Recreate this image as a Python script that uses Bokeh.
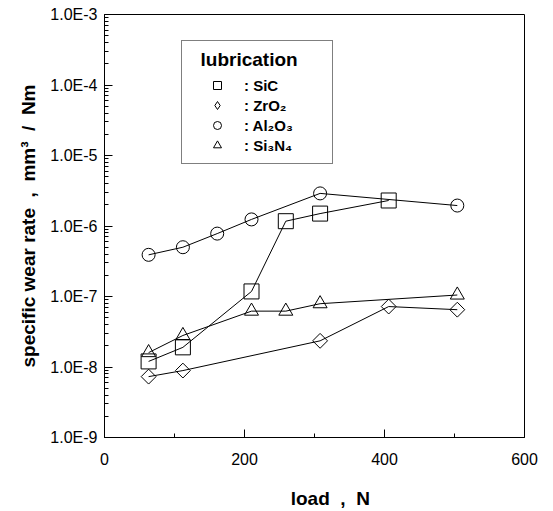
import math
from bokeh.plotting import figure
from bokeh.models import (Range1d, FixedTicker, CustomJSTickFormatter, Legend, LegendItem)
from bokeh.embed import file_html
from bokeh.resources import INLINE

# ---- data ----
sic_load = [63, 112, 210, 259, 308, 406]
sic_rate = [1.2e-8, 1.9e-8, 1.18e-7, 1.17e-6, 1.5e-6, 2.3e-6]

zro2_load = [63, 112, 308, 406, 504]
zro2_rate = [7.3e-9, 8.9e-9, 2.35e-8, 7.2e-8, 6.5e-8]

al2o3_load = [63, 112, 161, 210, 308, 504]
al2o3_rate = [3.9e-7, 5.0e-7, 7.8e-7, 1.24e-6, 2.9e-6, 1.95e-6]

si3n4_load = [63, 112, 210, 259, 308, 504]
si3n4_rate = [1.6e-8, 2.8e-8, 6.2e-8, 6.2e-8, 7.9e-8, 1.05e-7]

x_major = [0, 200, 400, 600]
x_minor = [100, 300, 500]
y_major = [1e-9, 1e-8, 1e-7, 1e-6, 1e-5, 1e-4, 1e-3]

legend_labels = [": SiC", ": ZrO\u2082", ": Al\u2082O\u2083", ": Si\u2083N\u2084"]

FONT = "Liberation Sans"
NB = "\u00a0"

p = figure(output_backend="svg", toolbar_location=None,
           frame_width=420, frame_height=423,
           x_range=Range1d(0, 600), y_range=Range1d(1e-9, 1e-3),
           y_axis_type="log",
           min_border_left=104, min_border_top=14, min_border_right=20, min_border_bottom=66)
p.background_fill_color = "white"
p.border_fill_color = "white"
p.outline_line_color = "black"
p.outline_line_width = 1
p.grid.visible = False

# y minor ticks 2..9 per decade
y_minor = []
for d in y_major[:-1]:
    for k in range(2, 10):
        y_minor.append(d * k)

p.xaxis.ticker = FixedTicker(ticks=x_major, minor_ticks=x_minor)
p.yaxis.ticker = FixedTicker(ticks=y_major, minor_ticks=y_minor)
p.yaxis.formatter = CustomJSTickFormatter(code="return '1.0E' + Math.round(Math.log10(tick));")

for ax in (p.xaxis[0], p.yaxis[0]):
    ax.axis_line_color = "black"
    ax.major_tick_line_color = "black"
    ax.minor_tick_line_color = "black"
    ax.major_tick_in = 8
    ax.major_tick_out = 0
    ax.minor_tick_in = 4
    ax.minor_tick_out = 0
    ax.major_label_text_font = FONT
    ax.major_label_text_font_size = "16px"
    ax.major_label_text_color = "black"
    ax.axis_label_text_font = FONT
    ax.axis_label_text_font_style = "bold"
    ax.axis_label_text_font_size = "19px"
    ax.axis_label_text_color = "black"

p.xaxis.major_label_standoff = 15
p.yaxis.major_label_standoff = 7
p.xaxis.axis_label = NB * 6 + "load" + NB * 2 + "," + NB * 2 + "N"
p.xaxis.axis_label_standoff = 20
p.yaxis.axis_label = "specific wear rate" + NB * 2 + "," + NB * 2 + "mm\u00b3" + NB * 2 + "/" + NB * 2 + "Nm"
p.yaxis.axis_label_standoff = 8

# ---- series ----
def series(xs, ys, marker, size, angle=0.0):
    p.line(xs, ys, line_color="black", line_width=1)
    return p.scatter(xs, ys, marker=marker, size=size, angle=angle, fill_color=None,
                     line_color="black", line_width=1)

r_sic = series(sic_load, sic_rate, "square", 15)
r_zro = series(zro2_load, zro2_rate, "square", 10.5, angle=math.pi / 4)
r_al = series(al2o3_load, al2o3_rate, "circle", 13)
r_si = series(si3n4_load, si3n4_rate, "triangle", 14)

# legend key for ZrO2 (legend glyphs are drawn unrotated, so use a diamond key)
r_zro_key = p.scatter(zro2_load, zro2_rate, marker="diamond", size=15, fill_color=None,
                      line_color="black", line_width=1, visible=False)

legend = Legend(items=[LegendItem(label=legend_labels[0], renderers=[r_sic]),
                       LegendItem(label=legend_labels[1], renderers=[r_zro_key]),
                       LegendItem(label=legend_labels[2], renderers=[r_al]),
                       LegendItem(label=legend_labels[3], renderers=[r_si])],
                title=NB * 2 + "lubrication" + NB * 5,
                location=(77, 273))
legend.title_text_font = FONT
legend.title_text_font_style = "bold"
legend.title_text_font_size = "19px"
legend.title_text_color = "black"
legend.title_standoff = 4
legend.label_text_font = FONT
legend.label_text_font_style = "bold"
legend.label_text_font_size = "15px"
legend.label_text_color = "black"
legend.padding = 8
legend.margin = 0
legend.spacing = 0
legend.glyph_width = 54
legend.glyph_height = 20
legend.label_height = 20
legend.label_standoff = 0
legend.border_line_color = "black"
legend.border_line_width = 1
legend.background_fill_color = "white"
legend.background_fill_alpha = 1
legend.inactive_fill_alpha = 0
p.add_layout(legend, "center")

open("out.html", "w").write(file_html(p, INLINE))
